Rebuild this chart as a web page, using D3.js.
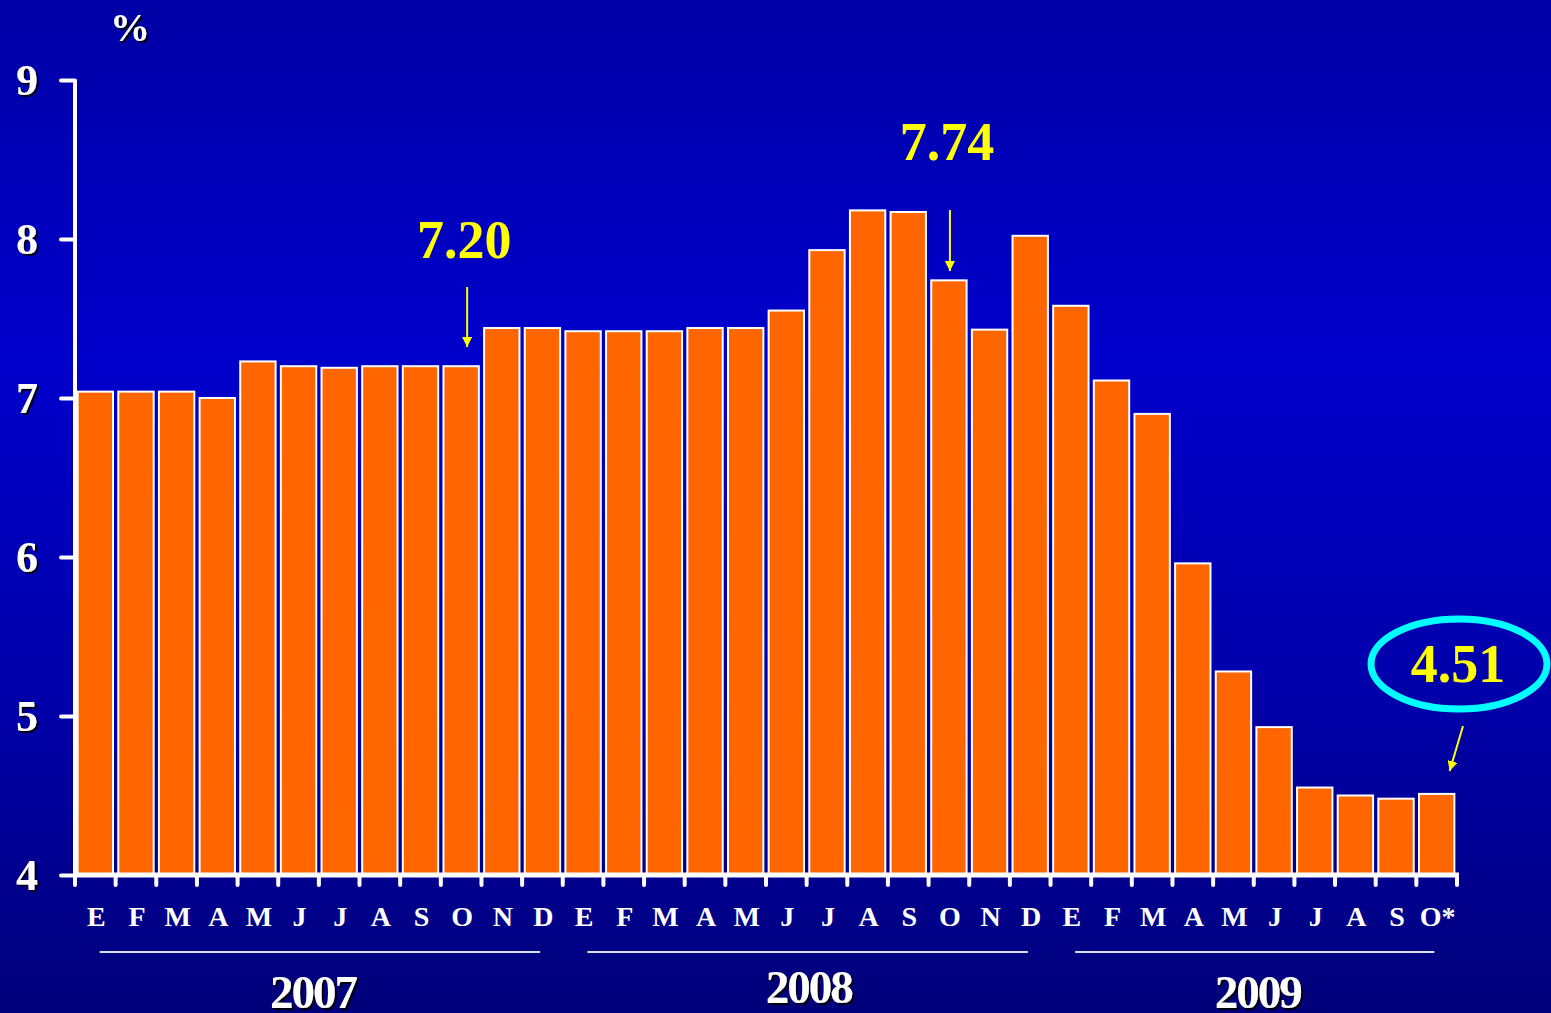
<!DOCTYPE html>
<html>
<head>
<meta charset="utf-8">
<script src="https://cdn.jsdelivr.net/npm/d3@7"></script>
<style>
  html, body { margin: 0; padding: 0; overflow: hidden; }
  svg { display: block; }
  text { font-family: "Liberation Serif", "Times New Roman", serif; font-weight: bold; }
</style>
</head>
<body>
<div id="chart"></div>
<script>
// Monthly rate (%), Jan 2007 - Oct 2009
const months = ['E','F','M','A','M','J','J','A','S','O','N','D',
                'E','F','M','A','M','J','J','A','S','O','N','D',
                'E','F','M','A','M','J','J','A','S','O*'];
const values = [7.04, 7.04, 7.04, 7.00, 7.23, 7.20, 7.19, 7.20, 7.20, 7.20, 7.44, 7.44,
                7.42, 7.42, 7.42, 7.44, 7.44, 7.55, 7.93, 8.18, 8.17, 7.74, 7.43, 8.02,
                7.58, 7.11, 6.90, 5.96, 5.28, 4.93, 4.55, 4.50, 4.48, 4.51];
const yTicks = [4, 5, 6, 7, 8, 9];
const years = [
    { label: '2007', first: 0, last: 11 },
    { label: '2008', first: 12, last: 23 },
    { label: '2009', first: 24, last: 33 }
];
const callouts = [
    { text: '7.20', index: 9 },
    { text: '7.74', index: 21 },
    { text: '4.51', index: 33 }
];

function draw() {
    const W = 1551, H = 1013;
    const svg = d3.select('#chart').append('svg')
        .attr('width', W)
        .attr('height', H);

    const defs = svg.append('defs');

    // Background gradient
    const bg = defs.append('linearGradient')
        .attr('id', 'bg')
        .attr('x1', '0%').attr('y1', '0%')
        .attr('x2', '0%').attr('y2', '100%');
    bg.append('stop').attr('offset', '0%').attr('stop-color', '#0000a6');
    bg.append('stop').attr('offset', '35%').attr('stop-color', '#0000cc');
    bg.append('stop').attr('offset', '70%').attr('stop-color', '#0000a8');
    bg.append('stop').attr('offset', '100%').attr('stop-color', '#00007a');

    const shadow = defs.append('filter').attr('id', 'shadow');
    shadow.append('feDropShadow')
        .attr('dx', 2).attr('dy', 2)
        .attr('stdDeviation', 0.5)
        .attr('flood-color', '#000')
        .attr('flood-opacity', 0.9);

    const marker = defs.append('marker')
        .attr('id', 'arrow')
        .attr('viewBox', '0 0 10 10')
        .attr('refX', 10).attr('refY', 5)
        .attr('markerWidth', 5).attr('markerHeight', 5)
        .attr('markerUnits', 'strokeWidth')
        .attr('orient', 'auto');
    marker.append('path').attr('d', 'M0,0L10,5L0,10z').attr('fill', '#ffff00');

    svg.append('rect')
        .attr('width', W).attr('height', H)
        .attr('fill', 'url(#bg)');

    // Scales
    const x0 = 75, x1 = 1457;
    const x = d3.scaleBand()
        .domain(d3.range(values.length))
        .range([x0, x1])
        .paddingInner(0.13)
        .paddingOuter(0.065);
    const step = (x1 - x0) / values.length;

    const y = d3.scaleLinear()
        .domain([4, 9])
        .range([875, 80]);

    // Bars
    svg.append('g')
        .selectAll('rect')
        .data(values)
        .join('rect')
        .attr('x', (d, i) => x(i))
        .attr('y', d => y(d))
        .attr('width', x.bandwidth())
        .attr('height', d => y(4) - y(d))
        .attr('fill', '#ff6600')
        .attr('stroke', '#ffffff')
        .attr('stroke-width', 2);

    // Y axis
    const yAxis = svg.append('g')
        .attr('transform', `translate(${x0},0)`)
        .call(d3.axisLeft(y).tickValues(yTicks).tickSize(14).tickFormat(d3.format('d')));
    yAxis.select('.domain').remove();
    yAxis.selectAll('.tick line')
        .attr('stroke', '#fff').attr('stroke-width', 4).attr('stroke-linecap', 'round');
    yAxis.selectAll('.tick text')
        .attr('x', -48)
        .attr('fill', '#fff')
        .attr('font-size', 44)
        .attr('font-family', '"Liberation Serif", serif')
        .attr('font-weight', 'bold')
        .attr('text-anchor', 'middle')
        .attr('dy', '0.34em')
        .attr('filter', 'url(#shadow)');
    svg.append('line')
        .attr('x1', x0).attr('x2', x0)
        .attr('y1', y(9)).attr('y2', y(4))
        .attr('stroke', '#fff').attr('stroke-width', 4);

    // X axis line and ticks at bar boundaries
    svg.append('line')
        .attr('x1', x0 - 2).attr('x2', x1 + 2)
        .attr('y1', y(4)).attr('y2', y(4))
        .attr('stroke', '#fff').attr('stroke-width', 5);
    svg.append('g')
        .selectAll('line')
        .data(d3.range(values.length + 1))
        .join('line')
        .attr('x1', i => x0 + i * step).attr('x2', i => x0 + i * step)
        .attr('y1', y(4)).attr('y2', y(4) + 10)
        .attr('stroke', '#fff').attr('stroke-width', 4).attr('stroke-linecap', 'round');

    // Month labels
    svg.append('g')
        .selectAll('text')
        .data(months)
        .join('text')
        .attr('x', (d, i) => x(i) + x.bandwidth() / 2 + 1)
        .attr('y', 926)
        .attr('text-anchor', 'middle')
        .attr('fill', '#fff')
        .attr('font-size', 28)
        .text(d => d);

    // Year groups
    const yg = svg.append('g');
    years.forEach(yr => {
        const a = x(yr.first) + 22;
        const b = x(yr.last) + x.bandwidth() - 20;
        yg.append('line')
            .attr('x1', a).attr('x2', b)
            .attr('y1', 952).attr('y2', 952)
            .attr('stroke', '#ddd').attr('stroke-width', 2);
    });
    const yearShift = [-6, 2, 4];
    yg.selectAll('text')
        .data(years)
        .join('text')
        .attr('x', (d, i) => (x(d.first) + x(d.last) + x.bandwidth()) / 2 + yearShift[i])
        .attr('y', (d, i) => i === 1 ? 1003 : 1008)
        .attr('text-anchor', 'middle')
        .attr('fill', '#fff')
        .attr('font-size', 47)
        .attr('letter-spacing', -2)
        .attr('filter', 'url(#shadow)')
        .text(d => d.label);

    // Percent label
    svg.append('text')
        .attr('x', 130).attr('y', 41)
        .attr('text-anchor', 'middle')
        .attr('fill', '#fff')
        .attr('font-size', 40)
        .attr('filter', 'url(#shadow)')
        .text('%');

    // Callouts
    const c720 = callouts[0], c774 = callouts[1], c451 = callouts[2];
    const cx = i => x(i) + x.bandwidth() / 2;

    svg.append('text')
        .attr('x', cx(c720.index) + 3).attr('y', 258)
        .attr('text-anchor', 'middle').attr('fill', '#ffff00').attr('font-size', 54)
        .text(c720.text);
    svg.append('line')
        .attr('x1', cx(c720.index) + 6).attr('x2', cx(c720.index) + 6)
        .attr('y1', 287).attr('y2', 347)
        .attr('stroke', '#ffff00').attr('stroke-width', 2)
        .attr('marker-end', 'url(#arrow)');

    svg.append('text')
        .attr('x', cx(c774.index) - 2).attr('y', 160)
        .attr('text-anchor', 'middle').attr('fill', '#ffff00').attr('font-size', 54)
        .text(c774.text);
    svg.append('line')
        .attr('x1', cx(c774.index) + 1).attr('x2', cx(c774.index) + 1)
        .attr('y1', 210).attr('y2', 271)
        .attr('stroke', '#ffff00').attr('stroke-width', 2)
        .attr('marker-end', 'url(#arrow)');

    svg.append('ellipse')
        .attr('cx', 1459).attr('cy', 664)
        .attr('rx', 88).attr('ry', 45)
        .attr('fill', 'none')
        .attr('stroke', '#00ffff').attr('stroke-width', 7);
    svg.append('text')
        .attr('x', 1458).attr('y', 682)
        .attr('text-anchor', 'middle').attr('fill', '#ffff00').attr('font-size', 54)
        .text(c451.text);
    svg.append('line')
        .attr('x1', 1463).attr('y1', 726)
        .attr('x2', cx(c451.index) + 13).attr('y2', 771)
        .attr('stroke', '#ffff00').attr('stroke-width', 2)
        .attr('marker-end', 'url(#arrow)');
}

draw();
</script>
</body>
</html>
